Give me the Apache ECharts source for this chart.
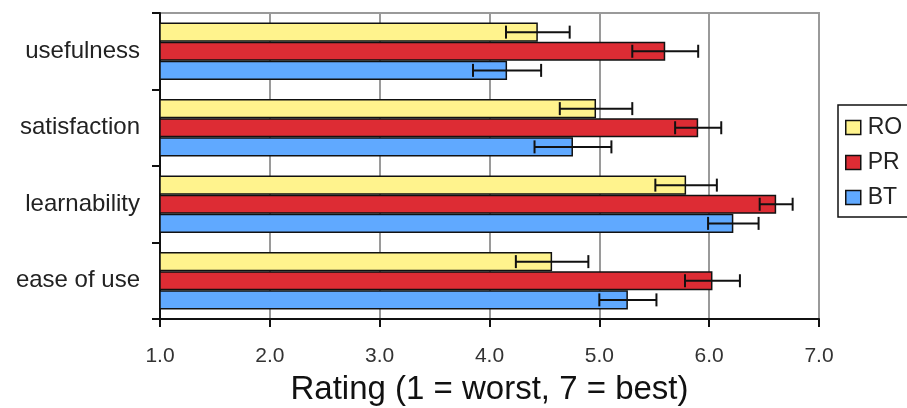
<!DOCTYPE html>
<html>
<head>
<meta charset="utf-8">
<script src="https://cdn.jsdelivr.net/npm/echarts@6/dist/echarts.min.js"></script>
<style>
  html, body { margin: 0; padding: 0; background: #fff; }
  #chart { width: 907px; height: 408px; }
</style>
</head>
<body>
<div id="chart"></div>
<script>
// Mean ratings per criterion, with the half-width of each error bar
const categories = ['usefulness', 'satisfaction', 'learnability', 'ease of use'];
const seriesNames = ['RO', 'PR', 'BT'];
const roMean = [4.44, 4.97, 5.79, 4.57];
const roErr  = [0.29, 0.33, 0.28, 0.33];
const prMean = [5.60, 5.90, 6.61, 6.03];
const prErr  = [0.30, 0.21, 0.15, 0.25];
const btMean = [4.16, 4.76, 6.22, 5.26];
const btErr  = [0.31, 0.35, 0.23, 0.26];
const xTicks = [1, 2, 3, 4, 5, 6, 7];

const colors = ['#FFF38D', '#DD2C34', '#60A9FF'];
const means = [roMean, prMean, btMean];
const errs = [roErr, prErr, btErr];
const CAT_GAP = 0.25;
const FONT = 'Arial, "Liberation Sans", sans-serif';

// error-bar records: [category index, low, high, series index]
const errData = [];
means.forEach((m, s) => {
  m.forEach((v, c) => errData.push([c, v - errs[s][c], v + errs[s][c], s]));
});

const barSeries = seriesNames.map((name, s) => ({
  name: name,
  type: 'bar',
  data: means[s],
  barGap: '0%',
  barCategoryGap: (CAT_GAP * 100) + '%',
  itemStyle: { color: colors[s], borderColor: '#111', borderWidth: 1.5 },
  emphasis: { disabled: true },
  z: 2
}));

const errorSeries = {
  type: 'custom',
  name: 'err',
  data: errData,
  encode: { x: [1, 2], y: 0 },
  z: 5,
  silent: true,
  renderItem: function (params, api) {
    const cat = api.value(0), lo = api.value(1), hi = api.value(2), s = api.value(3);
    const band = api.size([0, 1])[1];
    const group = band * (1 - CAT_GAP);
    const barW = group / seriesNames.length;
    const pLo = api.coord([lo, cat]);
    const pHi = api.coord([hi, cat]);
    const y = pLo[1] - group / 2 + barW * (s + 0.5);
    const cap = 6.5;
    const st = { stroke: '#111', lineWidth: 2 };
    return {
      type: 'group',
      children: [
        { type: 'line', shape: { x1: pLo[0], y1: y, x2: pHi[0], y2: y }, style: st },
        { type: 'line', shape: { x1: pLo[0], y1: y - cap, x2: pLo[0], y2: y + cap }, style: st },
        { type: 'line', shape: { x1: pHi[0], y1: y - cap, x2: pHi[0], y2: y + cap }, style: st }
      ]
    };
  }
};

const chart = echarts.init(document.getElementById('chart'), null, { renderer: 'canvas' });
chart.setOption({
  animation: false,
  backgroundColor: '#fff',
  grid: {
    left: 160, right: 88, top: 13, bottom: 89,
    containLabel: false,
    outerBoundsMode: 'none',
    show: true, borderColor: '#9a9a9a', borderWidth: 2, backgroundColor: 'transparent'
  },
  legend: {
    data: seriesNames,
    orient: 'vertical',
    left: 838, top: 105,
    padding: [11, 40, 8, 7],
    itemGap: 12,
    itemWidth: 15, itemHeight: 14,
    icon: 'rect',
    borderColor: '#111', borderWidth: 1.5,
    itemStyle: { borderColor: '#111', borderWidth: 1.5 },
    textStyle: { fontFamily: FONT, fontSize: 23, color: '#222', padding: [0, 0, 0, 2] }
  },
  xAxis: {
    type: 'value',
    min: xTicks[0], max: xTicks[xTicks.length - 1], interval: 1,
    axisLine: { show: true, lineStyle: { color: '#111', width: 2 } },
    axisTick: { show: true, length: 8, lineStyle: { color: '#111', width: 2 } },
    axisLabel: {
      margin: 27, fontFamily: FONT, fontSize: 21, color: '#333',
      formatter: v => v.toFixed(1)
    },
    splitLine: { show: true, lineStyle: { color: '#9a9a9a', width: 2 } },
    name: 'Rating (1 = worst, 7 = best)',
    nameLocation: 'middle',
    nameGap: 54,
    nameTextStyle: { fontFamily: FONT, fontSize: 33, color: '#111' }
  },
  yAxis: {
    type: 'category',
    data: categories,
    inverse: true,
    axisLine: { show: true, lineStyle: { color: '#111', width: 2 } },
    axisTick: { show: true, length: 8, lineStyle: { color: '#111', width: 2 } },
    axisLabel: { margin: 20, fontFamily: FONT, fontSize: 24, color: '#222', padding: [4, 0, 0, 0] },
    splitLine: { show: false }
  },
  series: barSeries.concat([errorSeries])
});
</script>
</body>
</html>
